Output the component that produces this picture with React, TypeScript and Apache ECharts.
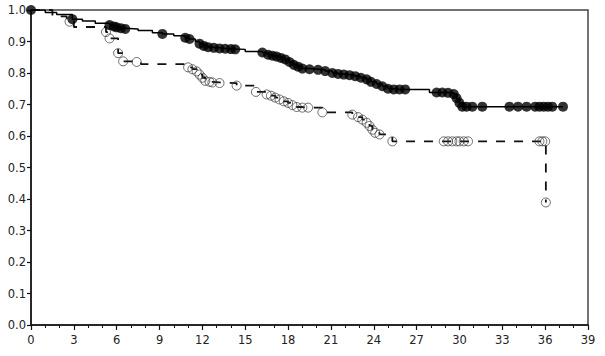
import React, { useEffect, useRef } from "react";
import * as echarts from "echarts";

// Group 1 (solid line, filled circles = censored)
const solidTimes = [0, 1.0, 1.8, 2.9, 3.6, 4.5, 5.5, 5.8, 6.0, 6.3, 6.6, 7.5, 8.5, 9.2, 10.0, 10.8, 11.1, 11.5, 11.8, 12.1, 12.4, 12.8, 13.2, 13.6, 14.0, 14.3, 15.0, 16.2, 16.6, 16.9, 17.2, 17.5, 17.8, 18.1, 18.4, 18.7, 19.0, 19.5, 20.1, 20.6, 21.1, 21.5, 21.9, 22.3, 22.7, 23.1, 23.5, 23.8, 24.2, 24.6, 25.0, 25.4, 25.8, 26.2, 27.9, 28.4, 28.8, 29.2, 29.6, 29.8, 30.0, 30.2, 30.5, 30.9, 31.6, 33.5, 34.1, 34.7, 35.3, 35.6, 35.9, 36.2, 36.5, 37.25];
const solidSurv = [1.0, 0.992, 0.986, 0.971, 0.965, 0.958, 0.952, 0.948, 0.945, 0.942, 0.94, 0.935, 0.928, 0.924, 0.918, 0.912, 0.908, 0.9, 0.893, 0.886, 0.882, 0.88, 0.878, 0.877, 0.876, 0.875, 0.868, 0.865, 0.858, 0.855, 0.852, 0.848, 0.843, 0.835, 0.826, 0.82, 0.814, 0.812, 0.81, 0.806, 0.8, 0.797, 0.795, 0.793, 0.79, 0.785, 0.78, 0.772, 0.765, 0.758, 0.75, 0.748, 0.748, 0.748, 0.738, 0.738, 0.738, 0.737, 0.733, 0.72, 0.705, 0.693, 0.693, 0.693, 0.693, 0.693, 0.693, 0.693, 0.693, 0.693, 0.693, 0.693, 0.693, 0.693];
const solidCensored = [1, 0, 0, 1, 0, 0, 1, 1, 1, 1, 1, 0, 0, 1, 0, 1, 1, 0, 1, 1, 1, 1, 1, 1, 1, 1, 0, 1, 1, 1, 1, 1, 1, 1, 1, 1, 1, 1, 1, 1, 1, 1, 1, 1, 1, 1, 1, 1, 1, 1, 1, 1, 1, 1, 0, 1, 1, 1, 1, 1, 1, 1, 1, 1, 1, 1, 1, 1, 1, 1, 1, 1, 1, 1];

// Group 2 (dashed line, open circles = censored)
const dashedTimes = [0, 1.5, 2.5, 2.7, 3.0, 5.25, 5.5, 6.1, 6.45, 7.4, 7.7, 11.0, 11.3, 11.6, 11.8, 12.0, 12.2, 12.5, 12.7, 13.2, 14.4, 15.75, 16.5, 16.8, 17.1, 17.4, 17.7, 18.0, 18.3, 18.6, 19.0, 19.4, 20.4, 22.5, 22.9, 23.2, 23.5, 23.7, 23.9, 24.1, 24.4, 25.3, 28.9, 29.2, 29.5, 29.8, 30.0, 30.3, 30.6, 35.6, 35.8, 36.0, 36.05];
const dashedSurv = [1.0, 0.98, 0.963, 0.963, 0.946, 0.93, 0.91, 0.863, 0.837, 0.835, 0.828, 0.818, 0.812, 0.805, 0.795, 0.785, 0.775, 0.772, 0.77, 0.768, 0.76, 0.74, 0.732, 0.728, 0.722, 0.716, 0.71, 0.705, 0.698, 0.692, 0.69, 0.69, 0.675, 0.668, 0.66, 0.652, 0.642, 0.632, 0.62, 0.61, 0.605, 0.583, 0.583, 0.583, 0.583, 0.583, 0.583, 0.583, 0.583, 0.583, 0.583, 0.583, 0.389];
const dashedCensored = [0, 0, 0, 1, 0, 1, 1, 1, 1, 1, 0, 1, 1, 1, 1, 1, 1, 1, 1, 1, 1, 1, 1, 1, 1, 1, 1, 1, 1, 1, 1, 1, 1, 1, 1, 1, 1, 1, 1, 1, 1, 1, 1, 1, 1, 1, 1, 1, 1, 1, 1, 1, 1];

const yTicks = [0, 0.1, 0.2, 0.3, 0.4, 0.5, 0.6, 0.7, 0.8, 0.9, 1.0];

const pairs = (t: number[], s: number[]) => t.map((v, i) => [v, s[i]]);
const censorPairs = (t: number[], s: number[], c: number[]) =>
  t.map((v, i) => [v, s[i], c[i]]).filter((p) => p[2] === 1).map((p) => [p[0], p[1]]);

export default function App() {
  const ref = useRef<HTMLDivElement>(null);
  useEffect(() => {
    if (!ref.current) return;
    const chart = echarts.init(ref.current, null, { renderer: "svg" });
    const font = "DejaVu Sans";
    chart.setOption({
      animation: false,
      backgroundColor: "#ffffff",
      grid: {
        left: 31,
        right: 17,
        top: 10,
        bottom: 31,
        show: true,
        borderColor: "#444",
        borderWidth: 1.5,
        backgroundColor: "transparent",
      },
      xAxis: {
        type: "value",
        min: 0,
        max: 39,
        interval: 3,
        axisLine: { show: true, onZero: false, lineStyle: { color: "#111", width: 1.5 } },
        axisTick: { show: true, length: 5, lineStyle: { color: "#111", width: 1.2 } },
        minorTick: { show: true, splitNumber: 3, length: 3, lineStyle: { color: "#111", width: 1 } },
        axisLabel: { color: "#222", fontFamily: font, fontSize: 11.5, margin: 9 },
        splitLine: { show: false },
      },
      yAxis: {
        type: "value",
        min: 0,
        max: 1,
        interval: 0.1,
        axisLine: { show: true, onZero: false, lineStyle: { color: "#111", width: 1.5 } },
        axisTick: { show: true, length: 4, lineStyle: { color: "#111", width: 1.2 } },
        axisLabel: {
          color: "#222",
          fontFamily: font,
          fontSize: 11.5,
          margin: 5,
          formatter: (v: number) => {
            const t = yTicks.find((x) => Math.abs(x - v) < 1e-6);
            return (t !== undefined ? t : v).toFixed(1);
          },
        },
        splitLine: { show: false },
      },
      series: [
        {
          type: "line",
          data: pairs(dashedTimes, dashedSurv),
          step: "end",
          showSymbol: false,
          symbol: "none",
          lineStyle: { color: "#111", width: 1.8, type: [9, 9] },
          z: 2,
        },
        {
          type: "scatter",
          data: censorPairs(dashedTimes, dashedSurv, dashedCensored),
          symbol: "circle",
          symbolSize: 9,
          clip: false,
          itemStyle: { color: "rgba(255,255,255,0)", borderColor: "#333", borderWidth: 0.9 },
          z: 3,
        },
        {
          type: "line",
          data: pairs(solidTimes, solidSurv),
          step: "end",
          showSymbol: false,
          symbol: "none",
          lineStyle: { color: "#000", width: 1.5 },
          z: 4,
        },
        {
          type: "scatter",
          data: censorPairs(solidTimes, solidSurv, solidCensored),
          symbol: "circle",
          symbolSize: 10,
          clip: false,
          itemStyle: { color: "#000" },
          z: 5,
        },
      ],
    });
    return () => chart.dispose();
  }, []);
  return (
    <div
      ref={ref}
      style={{ position: "fixed", left: 0, top: 0, width: 605, height: 356, background: "#fff" }}
    />
  );
}
